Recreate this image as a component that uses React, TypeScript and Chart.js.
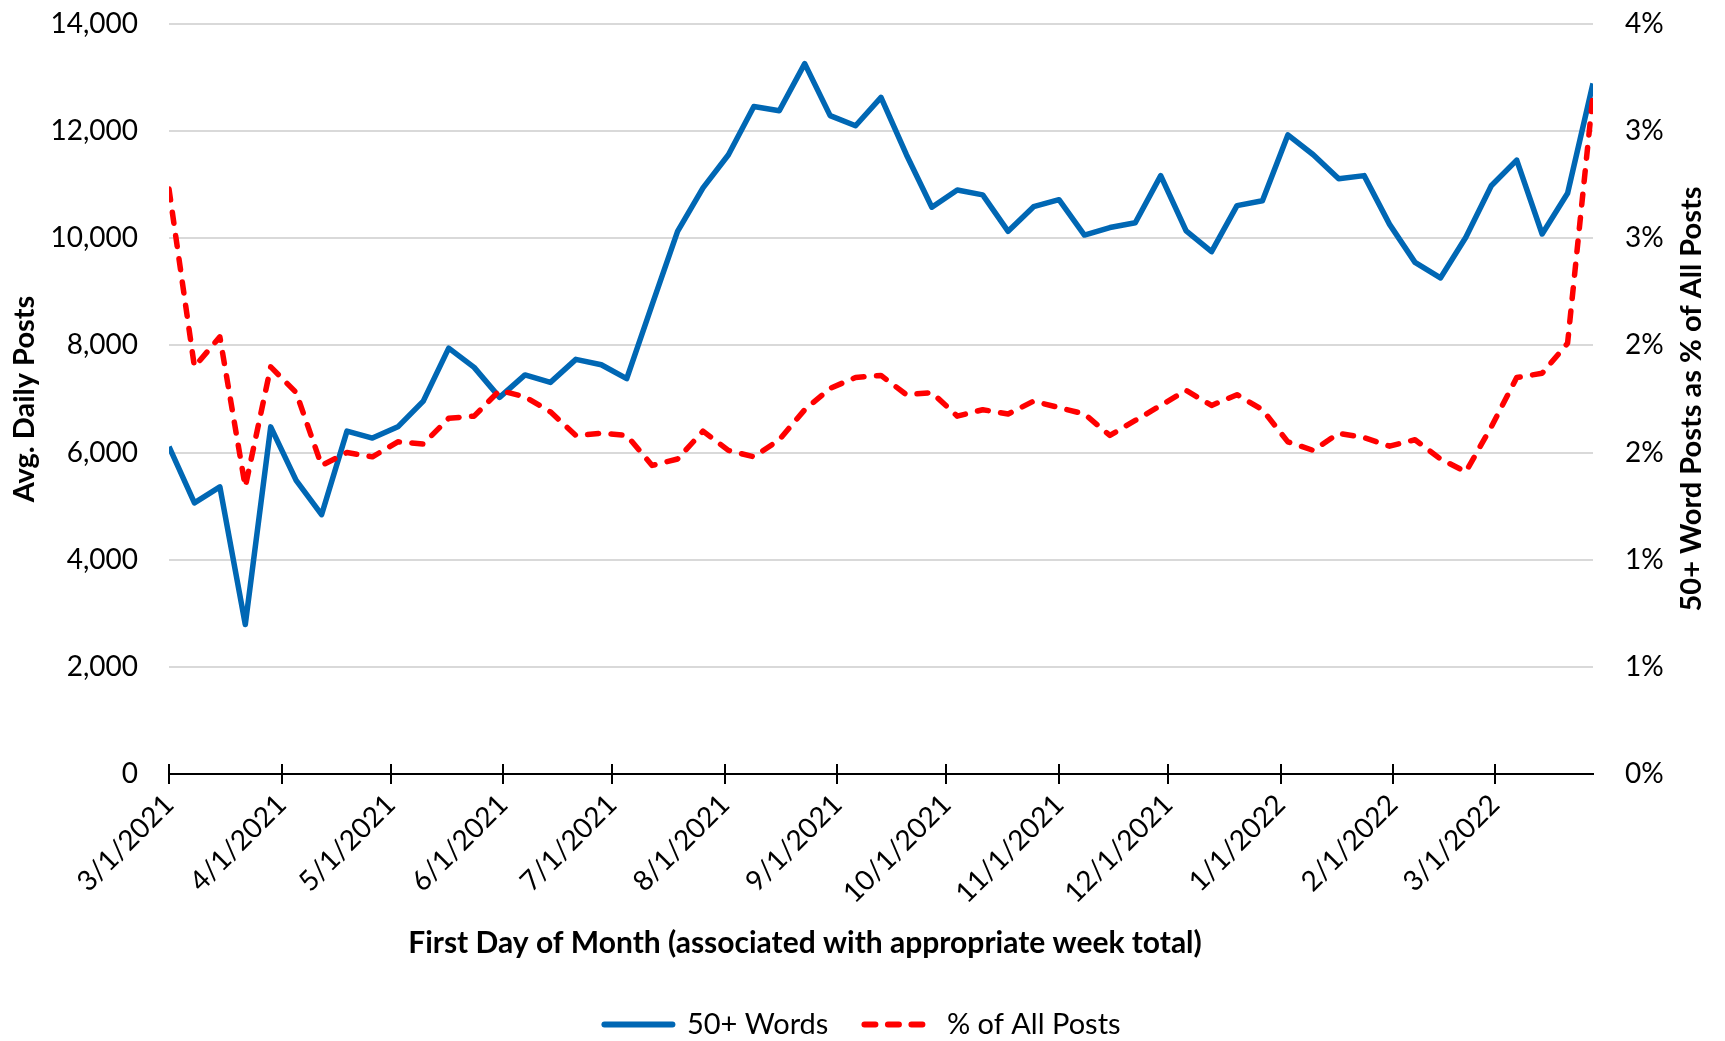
import React, { useEffect, useRef } from 'react';
import { Chart, registerables } from 'chart.js';

Chart.register(...registerables);

// Weekly categories (week start dates)
const weekDates = [
  '3/1/2021', '3/8/2021', '3/15/2021', '3/22/2021', '3/29/2021',
  '4/5/2021', '4/12/2021', '4/19/2021', '4/26/2021',
  '5/3/2021', '5/10/2021', '5/17/2021', '5/24/2021', '5/31/2021',
  '6/7/2021', '6/14/2021', '6/21/2021', '6/28/2021',
  '7/5/2021', '7/12/2021', '7/19/2021', '7/26/2021',
  '8/2/2021', '8/9/2021', '8/16/2021', '8/23/2021', '8/30/2021',
  '9/6/2021', '9/13/2021', '9/20/2021', '9/27/2021',
  '10/4/2021', '10/11/2021', '10/18/2021', '10/25/2021',
  '11/1/2021', '11/8/2021', '11/15/2021', '11/22/2021', '11/29/2021',
  '12/6/2021', '12/13/2021', '12/20/2021', '12/27/2021',
  '1/3/2022', '1/10/2022', '1/17/2022', '1/24/2022', '1/31/2022',
  '2/7/2022', '2/14/2022', '2/21/2022', '2/28/2022',
  '3/7/2022', '3/14/2022', '3/21/2022', '3/28/2022',
];

// Avg. daily posts with 50+ words
const words50 = [
  6110, 5060, 5360, 2790, 6480, 5480, 4840, 6400, 6270, 6480,
  6960, 7950, 7590, 7030, 7450, 7310, 7740, 7640, 7380, 8760,
  10130, 10940, 11560, 12460, 12380, 13260, 12290, 12100, 12630, 11560,
  10580, 10900, 10810, 10130, 10590, 10720, 10060, 10200, 10290, 11170,
  10140, 9750, 10610, 10700, 11930, 11560, 11110, 11170, 10260, 9550,
  9260, 10020, 10980, 11460, 10080, 10840, 12890,
];

// 50+ word posts as % of all posts
const pctAll = [
  2.73, 1.90, 2.04, 1.34, 1.90, 1.78, 1.44, 1.50, 1.48, 1.55,
  1.54, 1.66, 1.67, 1.79, 1.76, 1.69, 1.58, 1.59, 1.58, 1.44,
  1.47, 1.60, 1.51, 1.48, 1.56, 1.70, 1.80, 1.85, 1.86, 1.77,
  1.78, 1.67, 1.70, 1.68, 1.74, 1.71, 1.68, 1.58, 1.65, 1.72,
  1.79, 1.72, 1.77, 1.70, 1.55, 1.51, 1.59, 1.57, 1.53, 1.56,
  1.47, 1.41, 1.62, 1.85, 1.87, 2.01, 3.17,
];

// X-axis tick labels (first day of month)
const monthTicks = [
  '3/1/2021', '4/1/2021', '5/1/2021', '6/1/2021', '7/1/2021', '8/1/2021',
  '9/1/2021', '10/1/2021', '11/1/2021', '12/1/2021', '1/1/2022', '2/1/2022', '3/1/2022',
];

const seriesNames = ['50+ Words', '% of All Posts'];
const leftTitle = 'Avg. Daily Posts';
const rightTitle = '50+ Word Posts as % of All Posts';
const xTitle = 'First Day of Month (associated with appropriate week total)';

const FONT = 'Lato, Carlito, Calibri, sans-serif';
const BLUE = '#0067B4';
const RED = '#FF0000';

function toDay(s: string): number {
  const [m, d, y] = s.split('/').map(Number);
  const base = Date.UTC(2021, 2, 1);
  return Math.round((Date.UTC(y, m - 1, d) - base) / 86400000);
}

const tickMap: Record<number, string> = {};
monthTicks.forEach((t) => { tickMap[toDay(t)] = t; });

export default function App() {
  const canvasRef = useRef<HTMLCanvasElement | null>(null);

  useEffect(() => {
    if (!canvasRef.current) return;
    const xDays = weekDates.map(toDay);

    const crossTicks = {
      id: 'crossTicks',
      beforeDatasetsDraw(chart: any) {
        const sx = chart.scales.x;
        const ctx = chart.ctx;
        const bottom = chart.chartArea.bottom;
        ctx.save();
        ctx.strokeStyle = '#000';
        ctx.lineWidth = 2;
        sx.ticks.forEach((t: any) => {
          const px = Math.round(sx.getPixelForValue(t.value));
          ctx.beginPath();
          ctx.moveTo(px, bottom - 10);
          ctx.lineTo(px, bottom);
          ctx.stroke();
        });
        ctx.restore();
      },
    };

    const titlesPlugin = {
      id: 'extraTitles',
      afterDraw(chart: any) {
        const ctx = chart.ctx;
        const ca = chart.chartArea;
        ctx.save();
        ctx.font = `bold 29px ${FONT}`;
        ctx.fillStyle = '#000';
        ctx.textAlign = 'center';
        ctx.textBaseline = 'middle';
        ctx.save();
        ctx.translate(1692, (ca.top + ca.bottom) / 2);
        ctx.rotate(-Math.PI / 2);
        ctx.fillText(rightTitle, 0, 0);
        ctx.restore();
        ctx.font = `bold 30px ${FONT}`;
        ctx.fillText(xTitle, 805, ca.bottom + 169.5);
        ctx.restore();
      },
    };

    const zeroPad = (scale: any) => {
      scale.paddingTop = 0;
      scale.paddingBottom = 0;
    };

    const chart = new Chart(canvasRef.current, {
      type: 'line',
      data: {
        datasets: [
          {
            label: seriesNames[0],
            data: xDays.map((d, i) => ({ x: d, y: words50[i] })),
            yAxisID: 'y',
            borderColor: BLUE,
            backgroundColor: BLUE,
            borderWidth: 5.5,
            pointRadius: 0,
            tension: 0,
            borderJoinStyle: 'round',
            order: 1,
          },
          {
            label: seriesNames[1],
            data: xDays.map((d, i) => ({ x: d, y: pctAll[i] })),
            yAxisID: 'y1',
            borderColor: RED,
            backgroundColor: RED,
            borderWidth: 5.5,
            borderDash: [11, 12.5],
            borderCapStyle: 'round',
            borderJoinStyle: 'round',
            pointRadius: 0,
            tension: 0,
            order: 0,
          },
        ],
      },
      options: {
        responsive: false,
        animation: false,
        devicePixelRatio: 1,
        layout: { padding: { top: 24, left: 0, right: 0, bottom: -8 } },
        plugins: {
          tooltip: { enabled: false },
          legend: {
            position: 'bottom',
            labels: {
              usePointStyle: true,
              pointStyle: 'line',
              pointStyleWidth: 68,
              color: '#000',
              padding: 36,
              font: { family: FONT, size: 29 },
              sort: (a: any, b: any) => a.datasetIndex - b.datasetIndex,
              generateLabels: (c: any) => {
                const items = (Chart.defaults as any).plugins.legend.labels.generateLabels(c);
                items.forEach((it: any) => {
                  const ds = c.data.datasets[it.datasetIndex];
                  it.lineDash = ds.borderDash || [];
                  it.lineCap = ds.borderCapStyle || 'round';
                  it.lineWidth = 6;
                  it.strokeStyle = ds.borderColor;
                  it.fillStyle = ds.borderColor;
                  it.fontColor = '#000';
                });
                return items;
              },
            },
          },
        },
        scales: {
          x: {
            type: 'linear',
            min: 0,
            max: toDay(weekDates[weekDates.length - 1]),
            afterBuildTicks: (scale: any) => {
              scale.ticks = monthTicks.map((t) => ({ value: toDay(t) }));
            },
            afterFit: (scale: any) => { scale.height = 200; },
            ticks: {
              autoSkip: false,
              minRotation: 45,
              maxRotation: 45,
              padding: 4,
              color: '#000',
              font: { family: FONT, size: 28 },
              callback: (v: any) => tickMap[v as number] ?? '',
            },
            grid: {
              drawOnChartArea: false,
              drawTicks: true,
              tickLength: 10,
              color: '#000',
              lineWidth: 2,
            },
            border: { display: true, color: '#000', width: 2 },
            title: { display: false },
          },
          y: {
            type: 'linear',
            position: 'left',
            min: 0,
            max: 14000,
            afterFit: (scale: any) => { scale.width = 169; zeroPad(scale); },
            ticks: {
              stepSize: 2000,
              padding: 31,
              color: '#000',
              font: { family: FONT, size: 28 },
              callback: (v: any) => Number(v).toLocaleString('en-US'),
            },
            grid: { color: '#D9D9D9', lineWidth: 2, drawTicks: false },
            border: { display: false },
            title: {
              display: true,
              text: leftTitle,
              color: '#000',
              font: { family: FONT, size: 29, weight: 'bold' },
              padding: { top: 7, bottom: 0 },
            },
          },
          y1: {
            type: 'linear',
            position: 'right',
            min: 0,
            max: 3.5,
            afterFit: (scale: any) => { scale.width = 132; zeroPad(scale); },
            ticks: {
              stepSize: 0.5,
              padding: 32,
              color: '#000',
              font: { family: FONT, size: 28 },
              callback: (v: any) => `${Math.round(Number(v))}%`,
            },
            grid: { drawOnChartArea: false, drawTicks: false },
            border: { display: false },
          },
        },
      } as any,
      plugins: [crossTicks, titlesPlugin],
    });

    return () => chart.destroy();
  }, []);

  return (
    <div style={{ position: 'fixed', left: 0, top: 0, width: 1725, height: 1041, background: '#fff' }}>
      <canvas ref={canvasRef} width={1725} height={1041} style={{ display: 'block' }} />
    </div>
  );
}
